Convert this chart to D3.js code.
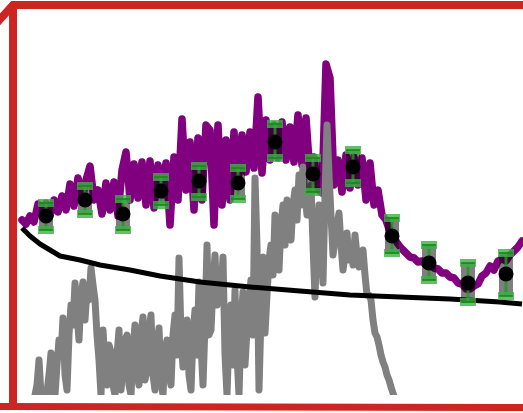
<!DOCTYPE html>
<html>
<head>
<meta charset="utf-8">
<script src="https://cdn.jsdelivr.net/npm/d3@7"></script>
<style>
  html, body { margin: 0; padding: 0; background: #fff; }
  svg { display: block; }
</style>
</head>
<body>
<div id="chart"></div>
<script>
// ---- Data ----
// Noisy spectrum (purple), sampled every 4 units starting at 0
const spectrumStart = 0, spectrumStep = 4;
const spectrumFlux = [175,171,179,173,191,181,192,179,195,183,199,185,211,189,217,195,215,229,195,205,
  181,212,185,213,179,225,243,195,231,197,233,190,234,187,230,200,232,170,238,195,
  276,205,253,185,257,195,270,265,170,270,190,255,195,263,210,260,223,263,227,298,
  222,275,235,270,237,273,235,268,233,280,230,277,220,238,205,202,331,317,210,235,
  203,240,207,238,210,237,195,232,190,205,180,175,163,157,151,146,142,138,137,133,
  134,130,130,127,126,122,122,118,117,112,111,106,106,109,111,119,122,129,125,134,
  136,134,140,144,148,154];

// Residual / secondary signal (gray), sampled every 2 units starting at 13
const residualStart = 13, residualStep = 2;
const residualFlux = [0,10,35,0,0,5,3,20,42,0,
  0,30,55,40,77,20,5,60,90,70,
  112,80,55,100,113,75,105,95,127,110,
  95,60,35,0,65,30,10,50,43,10,
  0,40,65,5,25,55,60,10,0,45,
  70,20,10,60,78,15,25,65,80,20,
  5,50,67,15,0,45,55,20,10,60,
  80,40,137,60,28,50,75,20,5,60,
  85,40,113,50,10,70,150,60,65,110,
  140,90,125,100,138,40,0,60,90,30,
  105,40,0,70,103,30,65,95,115,60,
  217,150,5,80,138,62,100,135,150,120,
  180,140,125,170,190,150,195,165,155,190,
  205,175,220,190,228,200,180,205,210,150,
  98,160,190,150,112,200,270,220,180,140,
  155,170,182,150,125,140,162,135,148,130,
  160,140,128,135,145,120,100,100,95,75,
  62,58,50,40,33,28,20,15,8,2,-5];

// Smooth continuum model (black)
const modelX = [0,8,18,28,38,48,58,78,108,138,178,228,278,328,378,428,478,500];
const modelY = [167,159,151,145,139,137,135,130,125,119,113,108,104,100,98,96,93,91];

// Binned points with error bars
const binX    = [24,63,101,139,177,216,253,291,331,370,407,446,484];
const binY    = [179,195,181,204,214,212,253,221,228,159,132,112,121];
const binHigh = [192,209,196,218,229,227,271,237,245,177,150,132,142];
const binLow  = [165,181,165,190,198,196,237,203,212,142,115,93,99];

// ---- Drawing ----
const W = 523, H = 413;
const svg = d3.select("#chart").append("svg").attr("width", W).attr("height", H);

const x = d3.scaleLinear().domain([0, 500]).range([22, 522]);
const y = d3.scaleLinear().domain([0, 395]).range([395, 0]);

svg.append("clipPath").attr("id", "plotclip")
  .append("rect").attr("x", 17).attr("y", 9).attr("width", W - 17).attr("height", 395 - 9);

const plot = svg.append("g").attr("clip-path", "url(#plotclip)");

const spectrum = spectrumFlux.map((v, i) => [spectrumStart + i * spectrumStep, v]);
const residual = residualFlux.map((v, i) => [residualStart + i * residualStep, v]);
const model = modelX.map((v, i) => [v, modelY[i]]);

const line = d3.line().x(d => x(d[0])).y(d => y(d[1]));

plot.append("path").datum(spectrum).attr("d", line)
  .attr("fill", "none").attr("stroke", "#800080").attr("stroke-width", 7.5)
  .attr("stroke-linejoin", "round").attr("stroke-linecap", "round");

plot.append("path").datum(residual).attr("d", line)
  .attr("fill", "none").attr("stroke", "#808080").attr("stroke-width", 7)
  .attr("stroke-linejoin", "round").attr("stroke-linecap", "round");

plot.append("path").datum(model).attr("d", line)
  .attr("fill", "none").attr("stroke", "#000").attr("stroke-width", 5)
  .attr("stroke-linejoin", "round");

// error bars
const eb = plot.append("g").selectAll("g").data(binX.map((v, i) => i)).join("g");
eb.append("rect")
  .attr("x", i => x(binX[i]) - 7).attr("width", 14)
  .attr("y", i => y(binHigh[i])).attr("height", i => y(binLow[i]) - y(binHigh[i]))
  .attr("fill", "#000").attr("fill-opacity", 0.5);
eb.append("line")
  .attr("x1", i => x(binX[i])).attr("x2", i => x(binX[i]))
  .attr("y1", i => y(binHigh[i])).attr("y2", i => y(binLow[i]))
  .attr("stroke", "#1f9a1f").attr("stroke-width", 3).attr("stroke-opacity", 0.8);
for (const arr of [binHigh, binLow]) {
  eb.append("rect")
    .attr("x", i => x(binX[i]) - 8).attr("width", 16)
    .attr("y", i => y(arr[i]) - 4).attr("height", 8)
    .attr("fill", "#3cb043").attr("fill-opacity", 0.8);
  eb.append("line")
    .attr("x1", i => x(binX[i]) - 7).attr("x2", i => x(binX[i]) + 7)
    .attr("y1", i => y(arr[i])).attr("y2", i => y(arr[i]))
    .attr("stroke", "#138a13").attr("stroke-width", 2).attr("stroke-opacity", 0.8);
}
eb.append("circle")
  .attr("cx", i => x(binX[i])).attr("cy", i => y(binY[i])).attr("r", 7.5)
  .attr("fill", "#000");

// red frame
const red = "#cd2522";
svg.append("path")
  .attr("d", "M-6,26 L13,5 L530,5")
  .attr("fill", "none").attr("stroke", red).attr("stroke-width", 8).attr("stroke-linejoin", "miter");
svg.append("line").attr("x1", 13).attr("x2", 13).attr("y1", 5).attr("y2", 407)
  .attr("stroke", red).attr("stroke-width", 8);
svg.append("line").attr("x1", -5).attr("x2", 530).attr("y1", 406.5).attr("y2", 407.5)
  .attr("stroke", red).attr("stroke-width", 7);
</script>
</body>
</html>
